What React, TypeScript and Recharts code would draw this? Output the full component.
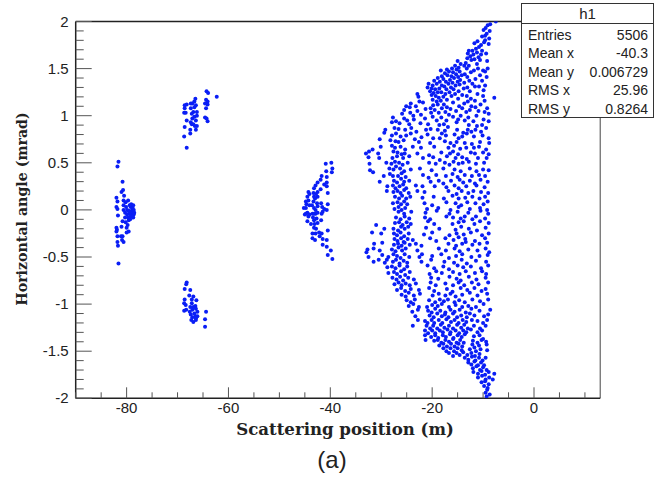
import { ScatterChart, Scatter, XAxis, YAxis, ReferenceLine } from 'recharts'

type Pt = [number, number]

const xTicks = [-90, -85, -80, -75, -70, -65, -60, -55, -50, -45, -40, -35, -30, -25, -20, -15, -10, -5, 0, 5, 10]
const xLabelled = [-80, -60, -40, -20, 0]
const yTicks = [-2, -1.9, -1.8, -1.7, -1.6, -1.5, -1.4, -1.3, -1.2, -1.1, -1, -0.9, -0.8, -0.7, -0.6, -0.5, -0.4, -0.3, -0.2, -0.1, 0, 0.1, 0.2, 0.3, 0.4, 0.5, 0.6, 0.7, 0.8, 0.9, 1, 1.1, 1.2, 1.3, 1.4, 1.5, 1.6, 1.7, 1.8, 1.9, 2]
const yLabelled = [-2, -1.5, -1, -0.5, 0, 0.5, 1, 1.5, 2]

const statsRows = [
  ['Entries', '5506'],
  ['Mean x', '-40.3'],
  ['Mean y', '0.006729'],
  ['RMS x', '25.96'],
  ['RMS y', '0.8264'],
]

const clusterFar: Pt[] = [
  [-81.6, 0.51], [-81.8, 0.46], [-80.8, 0.3], [-80.7, 0.21], [-81, 0.19], [-80.5, 0.15], [-82, 0.13], [-81.8, 0.09], [-80.6, 0.1], [-79.7, 0.1],
  [-82, 0.03], [-81.8, 0.01], [-81.7, -0.06], [-80.2, 0.08], [-80.6, 0.05], [-80.1, 0.03], [-79.4, 0.05], [-79.9, 0.0], [-79.2, 0.03], [-78.8, 0.02],
  [-80.6, 0.0], [-80.3, -0.03], [-79.6, -0.01], [-79, -0.01], [-78.6, 0.0], [-78.9, -0.04], [-79.4, -0.04], [-79.9, -0.05], [-78.6, -0.05], [-79.2, -0.07],
  [-78.7, -0.08], [-79.7, -0.08], [-80.3, -0.08], [-80.8, -0.12], [-79.6, -0.11], [-79.8, -0.16], [-80, -0.19], [-79.6, -0.23], [-80, -0.24], [-81, -0.18],
  [-82, -0.19], [-81.9, -0.21], [-82, -0.23], [-81.8, -0.28], [-81.8, -0.34], [-81.7, -0.38], [-81.6, -0.57], [-81.1, -0.28], [-80.8, -0.28], [-80.9, -0.32], [-80.6, -0.34],
  [-79.1, 0.06], [-78.7, 0.05], [-79.5, -0.02], [-78.5, -0.03], [-80.2, -0.13], [-79.3, -0.1],
]

const clusterUpper: Pt[] = [
  [-68.2, 0.66], [-68.7, 0.78], [-67.5, 0.81], [-67.5, 0.85], [-68.6, 0.88], [-66.4, 0.85], [-66.2, 0.89], [-66.6, 0.89], [-68.2, 0.95], [-67.4, 0.93],
  [-67.1, 0.97], [-66.7, 0.99], [-66.4, 0.95], [-67.2, 0.91], [-66.9, 0.91], [-66.2, 1.0], [-68.7, 1.03], [-68.4, 1.03], [-68.6, 1.08], [-68.6, 1.11],
  [-68.2, 1.12], [-67.4, 1.08], [-67.1, 1.13], [-66.7, 1.15], [-66.5, 1.18], [-67.4, 1.13], [-66.4, 1.11], [-66.2, 1.04], [-66.9, 1.04], [-66.7, 1.09],
  [-67.2, 1.02], [-64.4, 1.17], [-64.1, 1.15], [-64.6, 1.13], [-64.1, 1.12], [-64.4, 1.08], [-64.6, 0.98], [-64.3, 0.97], [-64.1, 0.94], [-64.3, 1.26],
  [-64, 1.24], [-62.3, 1.2],
]

const clusterLower: Pt[] = [
  [-68.2, -0.77], [-68.3, -0.79], [-68.6, -0.84], [-67.5, -0.85], [-67.7, -0.91], [-66.9, -0.92], [-67.2, -0.95], [-66.3, -0.96], [-68.6, -0.95], [-68.7, -0.99],
  [-68.4, -1.01], [-67.2, -0.99], [-66.5, -1.02], [-66.9, -1.03], [-67.5, -1.03], [-68.7, -1.07], [-68.3, -1.06], [-67.6, -1.08], [-67.1, -1.06], [-66.4, -1.05],
  [-66.1, -1.08], [-66.7, -1.1], [-67.4, -1.11], [-66.5, -1.13], [-66.1, -1.13], [-67.1, -1.14], [-66.4, -1.15], [-67.3, -1.17], [-66.9, -1.19], [-66.4, -1.17],
  [-64.4, -1.08], [-64.6, -1.16], [-64.6, -1.24],
]

const clusterMid: Pt[] = [
  [-39.8, 0.5], [-40.9, 0.49], [-39.6, 0.44], [-40.8, 0.41], [-39.7, 0.4], [-40.7, 0.35], [-41.7, 0.36], [-41.9, 0.32], [-42.5, 0.29], [-40.7, 0.29],
  [-41.2, 0.27], [-40.7, 0.25], [-41.9, 0.22], [-42.9, 0.26], [-43.2, 0.23], [-42.5, 0.19], [-43.3, 0.18], [-44.3, 0.19], [-44.1, 0.17], [-44.5, 0.14],
  [-44.3, 0.1], [-44.8, 0.09], [-44.1, 0.05], [-44.8, 0.02], [-45.2, 0.02], [-44.5, -0.03], [-45, -0.05], [-44.3, -0.07], [-43.2, 0.14], [-42.5, 0.14],
  [-43.3, 0.09], [-42.6, 0.07], [-43.2, 0.02], [-42.5, 0.04], [-43.5, -0.04], [-42.9, -0.04], [-41.6, 0.03], [-41.2, 0.01], [-41.7, -0.04], [-40.5, 0.18],
  [-40.5, 0.06], [-40.7, 0.0], [-44.8, -0.04], [-44.1, -0.05], [-44.5, -0.12], [-43.2, -0.04], [-42.5, -0.03], [-41.5, -0.02], [-41.8, -0.11], [-43.2, -0.11],
  [-42.5, -0.14], [-43.2, -0.19], [-43.5, -0.25], [-42.9, -0.25], [-42.2, -0.24], [-43, -0.32], [-41.7, -0.25], [-40.5, -0.22], [-40.7, -0.32], [-41.5, -0.31],
  [-41.5, -0.37], [-40.7, -0.39], [-39.9, -0.43], [-40.5, -0.48], [-39.6, -0.52], [-43, 0.12], [-42.9, 0.0], [-43.4, -0.08], [-42.7, -0.09], [-43.1, -0.15],
  [-42.8, -0.2], [-43.6, 0.05], [-42.8, 0.17], [-43.8, -0.15], [-44.7, 0.06], [-41.8, 0.07], [-43.5, -0.3], [-42.1, -0.28],
]

const fanUpper: Pt[] = [
  [-7.5, 2.0], [-8.6, 1.97], [-9.1, 1.96], [-8.7, 1.9], [-9.5, 1.93], [-9.9, 1.91], [-9.3, 1.87], [-9.6, 1.85], [-10.2, 1.84], [-8.8, 1.82],
  [-9.6, 1.8], [-11.1, 1.79], [-11.7, 1.77], [-8.9, 1.76], [-10.4, 1.75], [-9.8, 1.78], [-11.4, 1.71], [-10.8, 1.73], [-10.2, 1.69], [-12.1, 1.69],
  [-12.8, 1.69], [-11.2, 1.67], [-13, 1.66], [-9.4, 1.66], [-12.5, 1.63], [-11.9, 1.65], [-10.9, 1.62], [-10.4, 1.65], [-9.2, 1.58], [-13.1, 1.61],
  [-13.4, 1.56], [-12.3, 1.59], [-11.7, 1.6], [-11.2, 1.55], [-10.6, 1.59], [-13.7, 1.53], [-12.8, 1.53], [-14.4, 1.55], [-15, 1.58], [-13.2, 1.5],
  [-15.5, 1.53], [-16.1, 1.5], [-14.8, 1.51], [-17.1, 1.49], [-15.9, 1.46], [-15.2, 1.49], [-14.6, 1.47], [-18.3, 1.48], [-16.7, 1.47], [-17.5, 1.45],
  [-13.6, 1.44], [-11.8, 1.48], [-11, 1.5], [-10, 1.48], [-9.1, 1.5], [-9.6, 1.47], [-18.1, 1.42], [-17, 1.43], [-16.2, 1.42], [-15.3, 1.44],
  [-14.9, 1.41], [-14.2, 1.43], [-12.4, 1.46], [-10.6, 1.43], [-18.9, 1.4], [-17.8, 1.39], [-16.5, 1.38], [-15.7, 1.4], [-15, 1.36], [-14.5, 1.38],
  [-13.1, 1.41], [-11.5, 1.39], [-9.3, 1.41], [-19.6, 1.37], [-18.5, 1.36], [-17.3, 1.36], [-16.8, 1.34], [-16, 1.35], [-13.7, 1.35], [-12.7, 1.37],
  [-10.2, 1.37], [-20.7, 1.34], [-19.9, 1.32], [-19.1, 1.34], [-18.1, 1.32], [-17.6, 1.31], [-16.3, 1.3], [-15.4, 1.32], [-14.6, 1.33], [-12.1, 1.34],
  [-11.6, 1.31], [-20.9, 1.3], [-20.1, 1.29], [-19.4, 1.28], [-18.6, 1.29], [-17.2, 1.28], [-15.8, 1.28], [-13.8, 1.29], [-13.1, 1.3], [-10.8, 1.31],
  [-9.6, 1.32], [-20.4, 1.26], [-19.7, 1.24], [-18.9, 1.25], [-18.2, 1.25], [-17.4, 1.23], [-16.6, 1.25], [-14.8, 1.26], [-12.6, 1.26], [-9.9, 1.27],
  [-22.9, 1.23], [-22.7, 1.2], [-20.1, 1.22], [-19.3, 1.21], [-18.7, 1.19], [-17.8, 1.2], [-16.2, 1.21], [-15.5, 1.23], [-14.1, 1.22], [-13.2, 1.21],
  [-11.1, 1.23], [-10, 1.21], [-19.9, 1.17], [-19.1, 1.15], [-18.3, 1.16], [-17.1, 1.17], [-14.9, 1.18], [-12.4, 1.18], [-11.6, 1.16], [-7.8, 1.19],
  [-9.7, 1.16], [-24.2, 1.13], [-22.5, 1.15], [-21.8, 1.14], [-19.8, 1.11], [-18.9, 1.12], [-17.7, 1.12], [-15.9, 1.14], [-13.7, 1.13], [-13, 1.15],
  [-25.1, 1.1], [-24.4, 1.09], [-23.2, 1.1], [-20.3, 1.08], [-18.1, 1.08], [-17.1, 1.09], [-16.4, 1.07], [-14.7, 1.1], [-14.1, 1.08], [-12.3, 1.1],
  [-11.5, 1.09], [-10.5, 1.12], [-9.2, 1.08], [-25.5, 1.06], [-22.9, 1.05], [-21.3, 1.07], [-19.5, 1.06], [-18.7, 1.03], [-17.4, 1.04], [-15.3, 1.05],
  [-13.3, 1.04], [-12.6, 1.06], [-10.9, 1.05], [-9.7, 1.04], [-8.9, 1.02], [-25.9, 1.02], [-24.3, 1.03], [-23.7, 1.0], [-22.2, 1.01], [-20.2, 1.03],
  [-19.9, 0.99], [-18.2, 0.98], [-16.7, 1.01], [-15.9, 0.99], [-14.4, 1.0], [-12.9, 0.98], [-11.3, 1.0], [-27.7, 0.98], [-25.5, 0.97], [-24.9, 0.95],
  [-23.6, 0.96], [-21.4, 0.97], [-19.1, 0.95], [-17.2, 0.95], [-15.2, 0.93], [-14.9, 0.96], [-13.6, 0.95], [-11.9, 0.94], [-9.9, 0.96], [-8.9, 0.94],
  [-27.9, 0.93], [-27.1, 0.94], [-26.4, 0.92], [-24.5, 0.91], [-22.3, 0.92], [-20.8, 0.91], [-18.6, 0.9], [-17.7, 0.91], [-16.9, 0.88], [-12.8, 0.9],
  [-11.2, 0.89], [-10.2, 0.9], [-9.4, 0.87], [-29.4, 0.82], [-29.2, 0.85], [-27.4, 0.87], [-26.6, 0.86], [-25.3, 0.85], [-24.1, 0.87], [-23.1, 0.83],
  [-21.2, 0.85], [-20.3, 0.86], [-18.9, 0.85], [-18.1, 0.81], [-17.5, 0.84], [-15.1, 0.85], [-13.9, 0.82], [-13, 0.85], [-12.3, 0.83], [-11.5, 0.85],
  [-10.4, 0.83], [-27.9, 0.79], [-27.1, 0.81], [-26.2, 0.78], [-25.1, 0.79], [-24.2, 0.81], [-22.1, 0.77], [-20.9, 0.8], [-19.8, 0.76], [-18.5, 0.76],
  [-17.3, 0.79], [-15.6, 0.8], [-14.8, 0.76], [-14.1, 0.78], [-13.2, 0.81], [-11.8, 0.78], [-10.1, 0.79], [-8.9, 0.76], [-30.3, 0.75], [-28.2, 0.74],
  [-27.2, 0.73], [-26.6, 0.72], [-25.6, 0.74], [-23.4, 0.75], [-22.6, 0.72], [-20.4, 0.71], [-17.5, 0.73], [-16.4, 0.71], [-15.2, 0.72], [-13.6, 0.71],
  [-12.2, 0.7], [-10.6, 0.72], [-8.8, 0.71], [-30.1, 0.67], [-27.9, 0.68], [-27.3, 0.66], [-26.2, 0.67], [-25.3, 0.64], [-23.8, 0.67], [-22.2, 0.66],
  [-19.6, 0.67], [-16.8, 0.66], [-15.7, 0.68], [-14.5, 0.65], [-13.3, 0.66], [-11.8, 0.66], [-10.8, 0.67], [-9.4, 0.64], [-33, 0.6], [-32.4, 0.62],
  [-31.7, 0.64], [-30.6, 0.6], [-27.6, 0.62], [-26.8, 0.61], [-26, 0.59], [-25.4, 0.6], [-24.5, 0.57], [-22.9, 0.6], [-20.6, 0.58], [-18.2, 0.61],
  [-16.5, 0.6], [-15.9, 0.62], [-14.9, 0.59], [-12.4, 0.61], [-11.6, 0.6], [-10, 0.61], [-8.9, 0.59], [-32.5, 0.56], [-30.4, 0.55], [-27.8, 0.55],
  [-26.9, 0.57], [-25.7, 0.55], [-21.8, 0.55], [-19.8, 0.56], [-18.5, 0.53], [-17.1, 0.57], [-15.4, 0.55], [-14.1, 0.56], [-13.2, 0.54], [-11, 0.55],
  [-9.3, 0.55], [-32.3, 0.49], [-29, 0.5], [-28, 0.49], [-27.3, 0.51], [-26.5, 0.5], [-25.8, 0.48], [-24.8, 0.5], [-20.6, 0.5], [-19.3, 0.49], [-17.5, 0.5],
  [-16.6, 0.48], [-15.8, 0.51], [-14.8, 0.49], [-14, 0.5], [-12.8, 0.51], [-11.4, 0.49], [-9.8, 0.5], [-32.2, 0.42], [-31.6, 0.4], [-28.4, 0.44],
  [-27.6, 0.43], [-27.1, 0.46], [-26.3, 0.44], [-25.5, 0.41], [-24.2, 0.43], [-22.4, 0.44], [-20.1, 0.42], [-17.8, 0.44], [-15.6, 0.43], [-14.4, 0.41],
  [-12.6, 0.44], [-11.3, 0.41], [-10, 0.43], [-8.9, 0.42], [-29.5, 0.36], [-28.3, 0.38], [-27.7, 0.36], [-26.7, 0.36], [-26, 0.39], [-25.2, 0.35],
  [-21.8, 0.37], [-20.7, 0.34], [-19.2, 0.37], [-17.3, 0.36], [-16, 0.38], [-15, 0.35], [-13.6, 0.37], [-12.2, 0.36], [-10.8, 0.37], [-9.6, 0.36],
  [-30.3, 0.3], [-27.5, 0.31], [-26.9, 0.29], [-26.1, 0.33], [-25.5, 0.3], [-24.5, 0.31], [-20.3, 0.3], [-18.7, 0.31], [-17.8, 0.28], [-16.3, 0.31],
  [-14.6, 0.32], [-13.9, 0.29], [-12.6, 0.31], [-11.6, 0.28], [-10.5, 0.32], [-9.1, 0.3], [-28.8, 0.25], [-27.7, 0.26], [-27.2, 0.23], [-26.4, 0.25],
  [-25.7, 0.27], [-25.1, 0.23], [-23.2, 0.26], [-21.9, 0.25], [-19.5, 0.25], [-17.2, 0.24], [-15.6, 0.26], [-14.8, 0.23], [-13.3, 0.25], [-11.3, 0.26],
  [-9.7, 0.24], [-28.9, 0.2], [-27.6, 0.19], [-26.8, 0.2], [-26.2, 0.18], [-25.5, 0.21], [-24.6, 0.18], [-22.9, 0.2], [-21.5, 0.19], [-16.8, 0.2],
  [-15.2, 0.17], [-14.2, 0.2], [-12.9, 0.18], [-11.9, 0.2], [-10.4, 0.19], [-9, 0.18], [-27.3, 0.14], [-26.5, 0.12], [-25.9, 0.15], [-25.1, 0.12],
  [-24.3, 0.14], [-21.9, 0.13], [-19.7, 0.14], [-17.7, 0.12], [-16, 0.15], [-14.8, 0.12], [-13.5, 0.13], [-12.1, 0.14], [-10.7, 0.12], [-9.6, 0.14],
  [-27.7, 0.07], [-26.8, 0.08], [-26.1, 0.06], [-25.5, 0.09], [-24.9, 0.06], [-21.5, 0.07], [-20, 0.05], [-17.2, 0.08], [-15.4, 0.07], [-14.3, 0.05],
  [-13.1, 0.08], [-11.5, 0.07], [-9.9, 0.06], [-9.1, 0.09], [-27.4, 0.01], [-26.6, 0.03], [-26, 0.0], [-25.3, 0.02], [-21, 0.01], [-18.8, 0.02],
  [-16.4, 0.0], [-14.8, 0.03], [-12.6, 0.01], [-10.6, 0.02], [-9.2, 0.0],
]

const fanLower: Pt[] = [
  [-26.6, -0.02], [-25.5, -0.04], [-24.1, -0.02], [-21.3, -0.03], [-19.1, -0.01], [-16.6, -0.04], [-15, -0.02], [-12.9, -0.03], [-10.5, -0.01], [-9, -0.04],
  [-27.1, -0.08], [-26.2, -0.1], [-25.4, -0.07], [-24.5, -0.09], [-21.4, -0.08], [-20.4, -0.1], [-17.2, -0.07], [-15.9, -0.08], [-14.4, -0.09], [-13.6, -0.07],
  [-12.1, -0.1], [-11.4, -0.07], [-9.6, -0.09], [-27.3, -0.14], [-26.5, -0.13], [-25.8, -0.16], [-25, -0.13], [-24.2, -0.15], [-20.8, -0.12], [-19.6, -0.15],
  [-16, -0.15], [-14.8, -0.13], [-13.8, -0.12], [-11.7, -0.15], [-10.6, -0.12], [-8.9, -0.14], [-31, -0.16], [-29.4, -0.2], [-27.6, -0.2], [-26.7, -0.22],
  [-26.1, -0.18], [-25.4, -0.2], [-24.7, -0.18], [-21.2, -0.19], [-18.6, -0.2], [-15.4, -0.21], [-14.3, -0.18], [-12.8, -0.2], [-11.2, -0.22], [-9.5, -0.19],
  [-31.8, -0.24], [-30, -0.25], [-27.5, -0.25], [-26.9, -0.27], [-26.2, -0.24], [-25.5, -0.28], [-24.6, -0.25], [-21.6, -0.26], [-20, -0.24], [-16.6, -0.27],
  [-15.2, -0.25], [-13.8, -0.26], [-12.4, -0.24], [-10.2, -0.27], [-8.9, -0.25], [-27.4, -0.31], [-26.8, -0.33], [-26.1, -0.3], [-25.6, -0.34], [-24.8, -0.31],
  [-23.8, -0.32], [-20.4, -0.3], [-19.2, -0.33], [-17.4, -0.3], [-15.8, -0.32], [-14.8, -0.29], [-13.5, -0.31], [-11.6, -0.33], [-9.6, -0.3], [-31.4, -0.36],
  [-29.8, -0.35], [-27.5, -0.37], [-26.7, -0.36], [-26, -0.38], [-25.4, -0.35], [-24.4, -0.37], [-23.2, -0.36], [-22.1, -0.38], [-16.8, -0.36], [-15.3, -0.38],
  [-14.1, -0.36], [-13.4, -0.34], [-12.1, -0.37], [-10.7, -0.36], [-9.2, -0.35], [-32.7, -0.42], [-32.9, -0.45], [-31.5, -0.41], [-30.3, -0.43], [-27.9, -0.42],
  [-27.2, -0.44], [-26.6, -0.4], [-25.9, -0.43], [-25.2, -0.41], [-22.9, -0.43], [-18.7, -0.41], [-17.3, -0.43], [-15.6, -0.41], [-14.6, -0.44], [-12.9, -0.42],
  [-11.1, -0.43], [-9.5, -0.41], [-8.8, -0.45], [-32.5, -0.5], [-29.8, -0.48], [-28.6, -0.5], [-27.6, -0.47], [-26.9, -0.49], [-26.2, -0.51], [-25.4, -0.47],
  [-24.5, -0.5], [-22.5, -0.5], [-22, -0.47], [-20, -0.49], [-18.2, -0.47], [-16.7, -0.51], [-15.3, -0.49], [-14.1, -0.47], [-12.3, -0.5], [-10.7, -0.49],
  [-9.1, -0.48], [-31.5, -0.55], [-30.5, -0.53], [-29.3, -0.56], [-28.9, -0.53], [-27.7, -0.55], [-27.1, -0.53], [-26.4, -0.57], [-25.6, -0.54], [-24.9, -0.56],
  [-22.1, -0.55], [-20.2, -0.53], [-17.6, -0.55], [-15.7, -0.56], [-14.2, -0.53], [-13.2, -0.57], [-11.4, -0.54], [-9.4, -0.55], [-28.8, -0.61], [-27.9, -0.6],
  [-27.2, -0.62], [-26.4, -0.59], [-25.5, -0.63], [-24.9, -0.6], [-20.9, -0.59], [-19.6, -0.62], [-17.8, -0.6], [-16.7, -0.63], [-15, -0.59], [-13.9, -0.61],
  [-12.4, -0.6], [-10.4, -0.62], [-9, -0.59], [-28.6, -0.67], [-27.5, -0.66], [-26.9, -0.68], [-26.1, -0.65], [-25.3, -0.69], [-24.4, -0.66], [-20.5, -0.68],
  [-19.2, -0.65], [-18.1, -0.67], [-15.9, -0.66], [-14.6, -0.68], [-13.4, -0.65], [-11.6, -0.67], [-10.2, -0.65], [-9.4, -0.68], [-27.8, -0.72], [-27, -0.74],
  [-26.3, -0.71], [-25.7, -0.75], [-24.7, -0.72], [-23.6, -0.74], [-20.2, -0.72], [-18.8, -0.73], [-16.6, -0.71], [-15.2, -0.73], [-14.4, -0.75], [-12.8, -0.71],
  [-11.3, -0.74], [-9.5, -0.72], [-27.4, -0.79], [-26.6, -0.77], [-26, -0.8], [-25.2, -0.78], [-24.4, -0.8], [-23.2, -0.78], [-20.3, -0.77], [-19.3, -0.8],
  [-17.4, -0.78], [-15.9, -0.8], [-14.8, -0.77], [-13.7, -0.8], [-12.2, -0.77], [-10.9, -0.79], [-9, -0.77], [-26.9, -0.85], [-26.1, -0.83], [-25.3, -0.86],
  [-24.2, -0.84], [-22.6, -0.85], [-20.6, -0.83], [-19.6, -0.86], [-17.1, -0.84], [-16, -0.87], [-14.4, -0.83], [-13.1, -0.85], [-11.7, -0.83], [-10.3, -0.86],
  [-9.5, -0.84], [-26, -0.9], [-25.2, -0.92], [-24.6, -0.88], [-23.6, -0.91], [-22.4, -0.89], [-19.9, -0.91], [-18.7, -0.89], [-17.4, -0.91], [-16.4, -0.89],
  [-15.4, -0.92], [-14.1, -0.9], [-12.6, -0.88], [-11.1, -0.91], [-9.2, -0.89], [-25, -0.96], [-24.2, -0.98], [-23.4, -0.95], [-20.6, -0.96], [-19.4, -0.98],
  [-18.5, -0.95], [-17.7, -0.97], [-16.9, -0.95], [-15.6, -0.98], [-14.7, -0.96], [-13.6, -0.98], [-12.1, -0.95], [-10.6, -0.97], [-9, -0.95], [-24.6, -1.02],
  [-23.7, -1.0], [-22.6, -1.03], [-21, -1.03], [-20, -1.01], [-18.9, -1.02], [-18.1, -1.0], [-16.7, -1.03], [-15.4, -1.01], [-14.1, -1.03], [-12.9, -1.02],
  [-11.4, -1.03], [-9.9, -1.0], [-23.9, -1.08], [-22.8, -1.06], [-20.8, -1.07], [-20.1, -1.09], [-19.4, -1.05], [-18.4, -1.07], [-17.4, -1.09], [-16.4, -1.06],
  [-15.6, -1.08], [-14.6, -1.06], [-13.4, -1.09], [-12.3, -1.05], [-10.7, -1.07], [-8.6, -1.06], [-23.3, -1.13], [-20.5, -1.12], [-19.7, -1.14], [-19, -1.1],
  [-18.1, -1.13], [-17.5, -1.11], [-16.8, -1.14], [-15.9, -1.1], [-15.1, -1.14], [-14.3, -1.12], [-13.2, -1.14], [-12.6, -1.1], [-11.7, -1.12], [-9.8, -1.13],
  [-9, -1.11], [-22.8, -1.17], [-21.4, -1.18], [-20.9, -1.2], [-20.1, -1.17], [-19.6, -1.2], [-18.7, -1.17], [-18, -1.2], [-17.2, -1.16], [-16.3, -1.19],
  [-15.6, -1.17], [-14.8, -1.2], [-14, -1.17], [-13.3, -1.19], [-12.2, -1.17], [-11.1, -1.18], [-10, -1.2], [-9.2, -1.17], [-23.8, -1.23], [-21.1, -1.23],
  [-20.4, -1.26], [-19.8, -1.23], [-19, -1.26], [-18.3, -1.22], [-17.6, -1.25], [-16.7, -1.23], [-15.9, -1.26], [-15.1, -1.22], [-14.3, -1.25], [-13.7, -1.22],
  [-13, -1.26], [-11.8, -1.23], [-10.6, -1.26], [-9.5, -1.23], [-21.4, -1.28], [-20.8, -1.31], [-20, -1.28], [-19.4, -1.31], [-18.5, -1.28], [-17.9, -1.3],
  [-17, -1.27], [-16.4, -1.3], [-15.4, -1.28], [-14.7, -1.31], [-13.9, -1.28], [-13.3, -1.3], [-12.4, -1.27], [-11.1, -1.3], [-10.2, -1.28], [-21.4, -1.33],
  [-20.2, -1.35], [-19.4, -1.33], [-18.8, -1.36], [-17.9, -1.33], [-17.3, -1.35], [-16.5, -1.32], [-15.8, -1.36], [-15, -1.33], [-14.2, -1.35], [-13.6, -1.32],
  [-11.8, -1.34], [-10.7, -1.33], [-10, -1.37], [-21.3, -1.38], [-19.6, -1.39], [-18.9, -1.38], [-18.2, -1.41], [-17.4, -1.38], [-16.7, -1.4], [-15.9, -1.37],
  [-15.2, -1.41], [-14.5, -1.38], [-13.8, -1.41], [-12, -1.39], [-11.1, -1.41], [-10.3, -1.38], [-9.4, -1.4], [-18.6, -1.44], [-17.8, -1.42], [-17.1, -1.45],
  [-16.3, -1.42], [-15.6, -1.45], [-14.8, -1.42], [-14.1, -1.45], [-12.1, -1.43], [-11.7, -1.46], [-10.8, -1.44], [-9.3, -1.43], [-17.8, -1.47], [-17.2, -1.5],
  [-16.4, -1.47], [-15.7, -1.5], [-15, -1.47], [-14.2, -1.49], [-12.6, -1.48], [-11.4, -1.5], [-10.5, -1.48], [-9.2, -1.49], [-16.7, -1.52], [-15.9, -1.55],
  [-15.2, -1.52], [-14.6, -1.54], [-13.9, -1.51], [-13.1, -1.54], [-12.3, -1.52], [-11.6, -1.55], [-10.7, -1.53], [-13.6, -1.57], [-12.9, -1.59], [-12.2, -1.56],
  [-11.5, -1.6], [-10.8, -1.57], [-10.1, -1.6], [-9.5, -1.57], [-12.9, -1.62], [-12.3, -1.64], [-11.7, -1.61], [-11, -1.65], [-10.4, -1.62], [-9.8, -1.65],
  [-12, -1.68], [-11.3, -1.66], [-10.6, -1.7], [-10, -1.67], [-9.3, -1.7], [-11.9, -1.72], [-11, -1.74], [-10.3, -1.71], [-9.6, -1.75], [-8.9, -1.72], [-7.8, -1.74],
  [-11, -1.78], [-10.2, -1.76], [-9.5, -1.8], [-8.8, -1.78], [-8.1, -1.8], [-10.3, -1.83], [-9.6, -1.82], [-8.9, -1.85], [-9.8, -1.87], [-9.1, -1.89],
  [-9.2, -1.91], [-9.5, -1.94], [-8.7, -1.96], [-9.3, -1.98],
]

const asPoints = (pts: Pt[]) => pts.map(([x, y]) => ({ x, y }))
const clusters = [clusterFar, clusterUpper, clusterLower, clusterMid, fanUpper, fanLower]

const sansFont = '"Liberation Sans", Arial, sans-serif'
const serifFont = '"DejaVu Serif", serif'
const tickGrey = '#555'

function XTick({ x, y, payload }: any) {
  const major = xLabelled.includes(payload.value)
  return (
    <g>
      <line x1={x} x2={x} y1={y} y2={y - (payload.value % 20 === 0 ? 11 : 6)} stroke={tickGrey} />
      {major && (
        <text x={x} y={y + 15} textAnchor="middle" fontSize={15} fontFamily={sansFont} fill="#222">
          {payload.value}
        </text>
      )}
    </g>
  )
}

function YTick({ x, y, payload }: any) {
  const major = yLabelled.includes(payload.value)
  return (
    <g>
      <line x1={x} x2={x + (major ? 16 : 8)} y1={y} y2={y} stroke={tickGrey} />
      {major && (
        <text x={x - 7} y={y + 5} textAnchor="end" fontSize={15} fontFamily={sansFont} fill="#222">
          {payload.value}
        </text>
      )}
    </g>
  )
}

function Dot({ cx, cy }: any) {
  return <circle cx={cx} cy={cy} r={2} fill="#0a1ef5" />
}

function StatsBox() {
  return (
    <div
      style={{
        position: 'absolute',
        left: 521,
        top: 3,
        width: 133,
        height: 115,
        boxSizing: 'border-box',
        border: '1px solid #333',
        background: '#fff',
        fontFamily: sansFont,
        color: '#222',
      }}
    >
      <div style={{ height: 19, borderBottom: '1px solid #333', textAlign: 'center', fontSize: 15, lineHeight: '19px' }}>h1</div>
      <div style={{ padding: '2px 5px 0 6px' }}>
        {statsRows.map(([name, val]) => (
          <div key={name} style={{ display: 'flex', justifyContent: 'space-between', fontSize: 14, lineHeight: '18.4px' }}>
            <span>{name}</span>
            <span>{val}</span>
          </div>
        ))}
      </div>
    </div>
  )
}

export default function App() {
  return (
    <div style={{ position: 'absolute', left: 0, top: 0, width: 657, height: 477, background: '#fff' }}>
      <ScatterChart width={657} height={477} margin={{ top: 21.5, right: 56.8, bottom: 0, left: 0 }}>
        <XAxis
          type="number"
          dataKey="x"
          domain={[-90, 13]}
          ticks={xTicks}
          height={78.7}
          interval={0}
          allowDataOverflow
          tickLine={false}
          tickSize={0}
          tickMargin={0}
          axisLine={{ stroke: '#222', strokeWidth: 1.5 }}
          tick={<XTick />}
        />
        <YAxis
          type="number"
          dataKey="y"
          domain={[-2, 2]}
          ticks={yTicks}
          width={75.7}
          interval={0}
          allowDataOverflow
          tickLine={false}
          tickSize={0}
          tickMargin={0}
          axisLine={{ stroke: '#222', strokeWidth: 1.5 }}
          tick={<YTick />}
        />
        <ReferenceLine y={2} stroke="#222" strokeWidth={1.5} />
        <ReferenceLine x={13} stroke="#444" strokeWidth={1} />
        {clusters.map((pts, i) => (
          <Scatter key={i} data={asPoints(pts)} fill="#0a1ef5" shape={<Dot />} isAnimationActive={false} />
        ))}
      </ScatterChart>
      <div style={{ position: 'absolute', left: 0, width: 690, top: 419, textAlign: 'center', fontFamily: serifFont, fontWeight: 700, fontSize: 16.6, color: '#222' }}>
        Scattering position (m)
      </div>
      <div style={{ position: 'absolute', left: 22, top: 209, width: 0, height: 0, fontFamily: serifFont, fontWeight: 700, fontSize: 14.2, color: '#222' }}>
        <div style={{ position: 'absolute', transform: 'translate(-50%,-50%) rotate(-90deg)', whiteSpace: 'nowrap', left: 0, top: 0 }}>
          Horizontal angle (mrad)
        </div>
      </div>
      <div style={{ position: 'absolute', left: 0, width: 664, top: 446, textAlign: 'center', fontFamily: sansFont, fontSize: 24, color: '#222' }}>(a)</div>
      <StatsBox />
    </div>
  )
}
